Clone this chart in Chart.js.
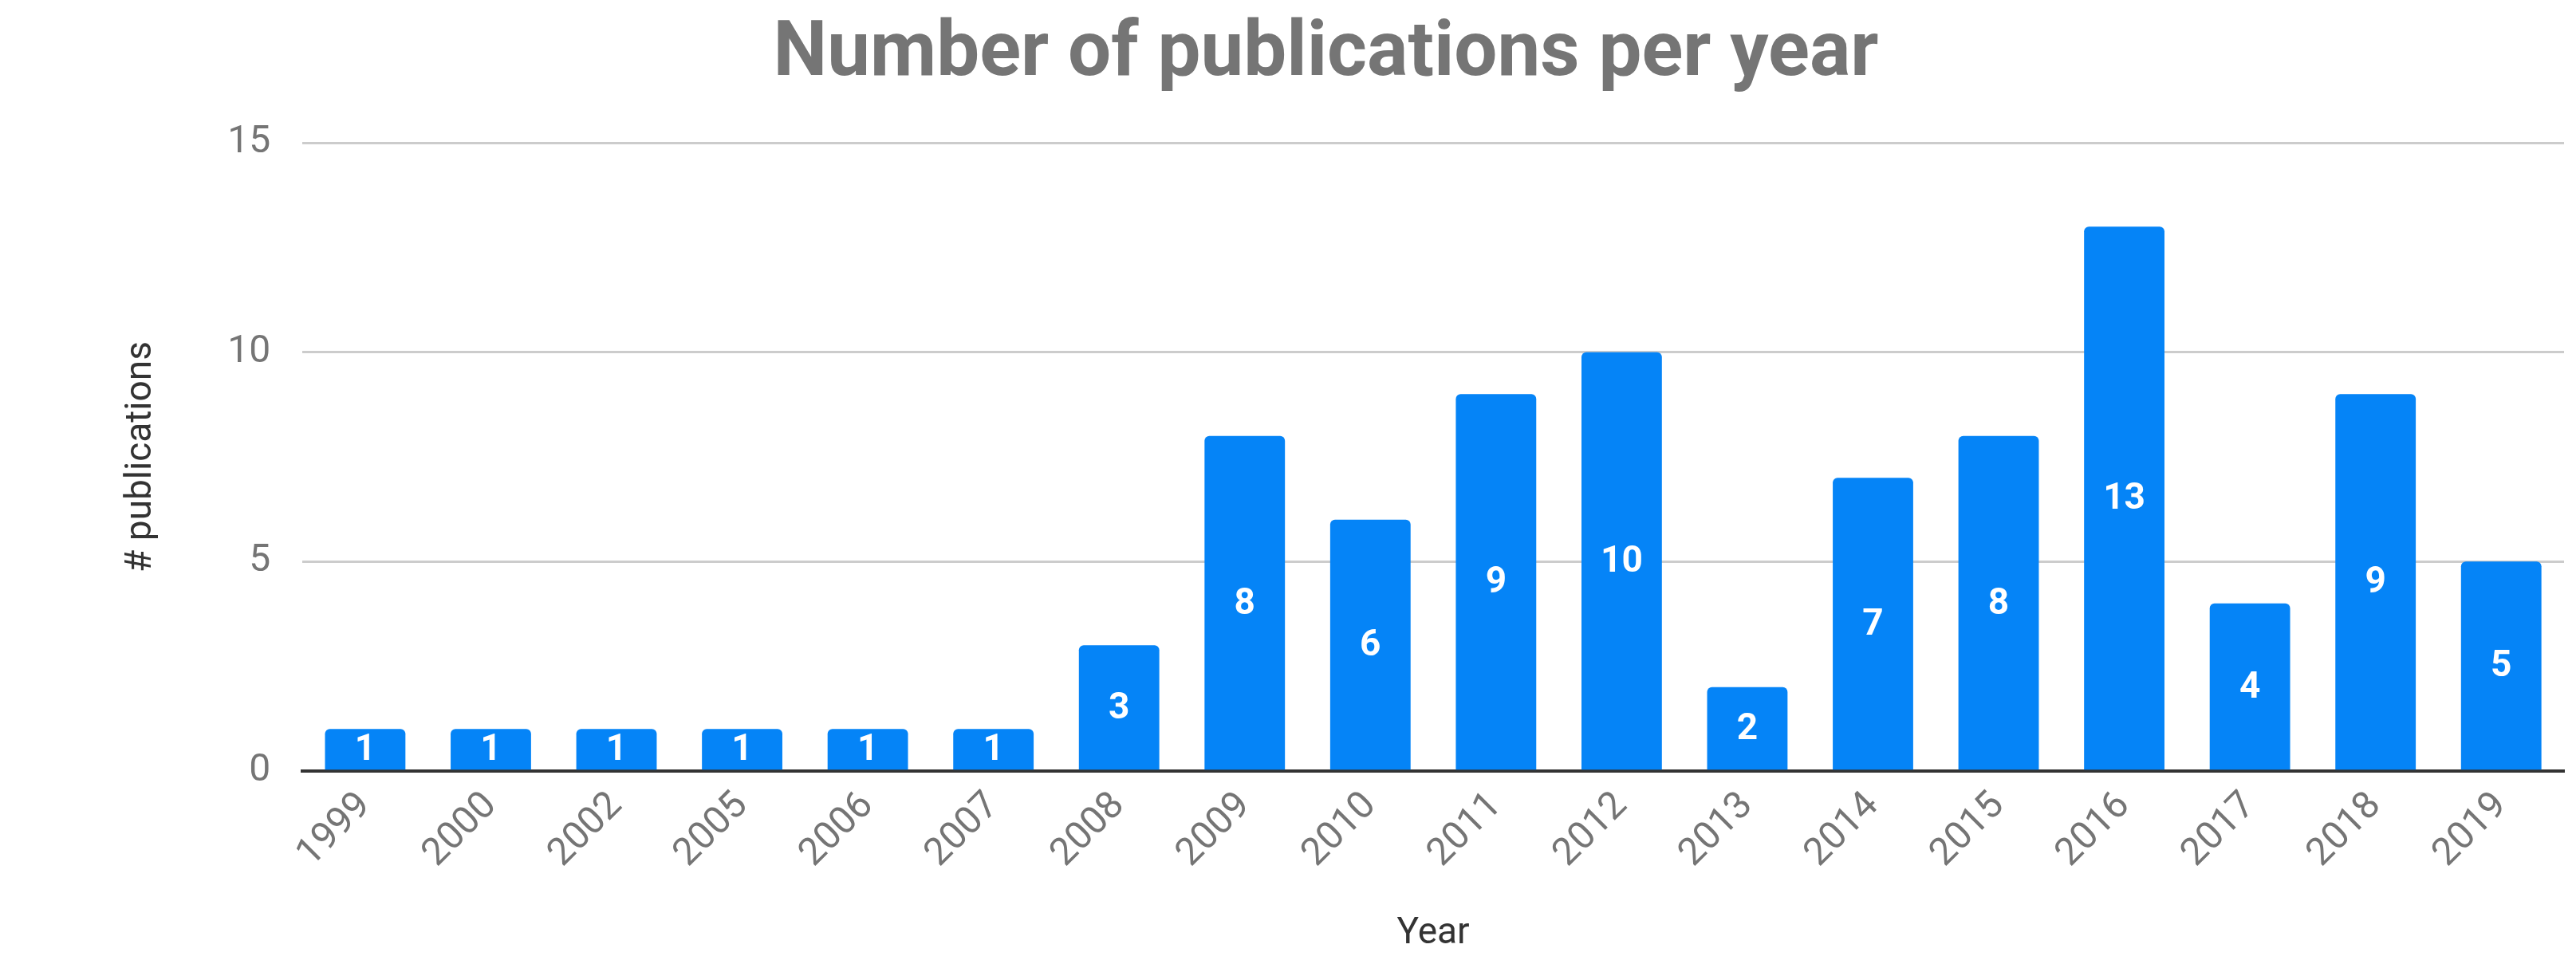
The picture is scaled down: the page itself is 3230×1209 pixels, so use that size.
<!DOCTYPE html>
<html>
<head>
<meta charset="utf-8">
<script src="https://cdn.jsdelivr.net/npm/chart.js@4"></script>
<style>
  html, body { margin: 0; padding: 0; background: #fff; }
  #wrap { width: 3230px; height: 1209px; }
</style>
</head>
<body>
<div id="wrap"><canvas id="pubs"></canvas></div>
<script>
// data
const years = ['1999','2000','2002','2005','2006','2007','2008','2009','2010','2011','2012','2013','2014','2015','2016','2017','2018','2019'];
const counts = [1,1,1,1,1,1,3,8,6,9,10,2,7,8,13,4,9,5];

// white value labels in the middle of each bar
const barLabels = {
  id: 'barLabels',
  afterDatasetsDraw(chart) {
    const ctx = chart.ctx;
    const meta = chart.getDatasetMeta(0);
    ctx.save();
    ctx.fillStyle = '#fff';
    ctx.font = 'bold 46px Roboto';
    ctx.textAlign = 'center';
    ctx.textBaseline = 'middle';
    meta.data.forEach(function (bar, i) {
      ctx.fillText(counts[i], bar.x, (bar.y + bar.base) / 2 + 2);
    });
    ctx.restore();
  }
};

new Chart(document.getElementById('pubs'), {
  type: 'bar',
  data: {
    labels: years,
    datasets: [{
      data: counts,
      backgroundColor: '#0584f7',
      borderRadius: { topLeft: 6, topRight: 6 },
      borderSkipped: 'bottom',
      categoryPercentage: 1,
      barPercentage: 0.64
    }]
  },
  options: {
    responsive: true,
    maintainAspectRatio: false,
    animation: false,
    layout: { padding: { left: 110, right: 15, top: 6, bottom: 6 } },
    plugins: {
      legend: { display: false },
      tooltip: { enabled: false },
      title: {
        display: true,
        text: 'Number of publications per year',
        color: '#757575',
        font: { family: 'Roboto', size: 96, weight: 'bold' },
        padding: { top: 6, bottom: 52 }
      }
    },
    scales: {
      y: {
        min: 0, max: 15,
        ticks: { stepSize: 5, color: '#757575', font: { family: 'Roboto', size: 48 }, padding: 40 },
        grid: { color: '#cccccc', lineWidth: 3, drawTicks: false },
        border: { display: false },
        title: { display: true, text: '# publications', color: '#333', font: { family: 'Roboto', size: 46 }, padding: 40 }
      },
      x: {
        ticks: { color: '#757575', font: { family: 'Roboto', size: 48 }, minRotation: 45, maxRotation: 45, padding: 8 },
        grid: { display: false },
        border: { color: '#333', width: 4 },
        title: { display: true, text: 'Year', color: '#333', font: { family: 'Roboto', size: 46 }, padding: { top: 36 } }
      }
    }
  },
  plugins: [barLabels]
});
</script>
</body>
</html>
